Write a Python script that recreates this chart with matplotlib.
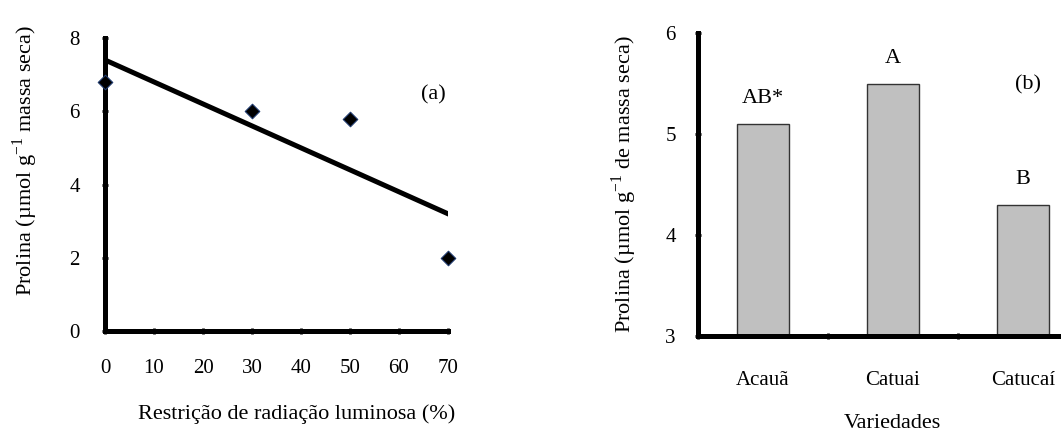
import matplotlib
matplotlib.use("Agg")
import matplotlib.pyplot as plt

plt.rcParams['font.family'] = ['Liberation Serif', 'DejaVu Serif']
plt.rcParams['mathtext.fontset'] = 'custom'
plt.rcParams['mathtext.rm'] = 'Liberation Serif'

# (a) proline vs light restriction
restricao = [0, 30, 50, 70]
prolina_a = [6.8, 6.0, 5.8, 2.0]
reta_x = [0, 70]
reta_y = [7.4, 3.2]

# (b) proline per variety
variedades = ['Acauã', 'Catuai', 'Catucaí']
prolina_b = [5.1, 5.5, 4.3]
letras = ['AB*', 'A', 'B']

W, H = 1061, 432
fig = plt.figure(figsize=(W / 100, H / 100), dpi=100)

def style(ax):
    for s in ['top', 'right']:
        ax.spines[s].set_visible(False)
    for s in ['left', 'bottom']:
        ax.spines[s].set_linewidth(3.6)
    ax.tick_params(direction='inout', length=4, width=2, labelsize=15)

# ---- panel (a)
ax1 = fig.add_axes([105 / W, 1 - 331 / H, 343 / W, 293 / H])
ax1.plot(reta_x, reta_y, color='black', lw=3.6, zorder=2)
ax1.scatter(restricao, prolina_a, marker='D', s=55, color='black',
            edgecolor='#1f3a6e', linewidth=0.8, zorder=3, clip_on=False)
ax1.set_xlim(0, 70)
ax1.set_ylim(0, 8)
ax1.set_xticks(range(0, 80, 10))
ax1.set_yticks([0, 2, 4, 6, 8])
style(ax1)
ax1.tick_params(axis='x', pad=18)
ax1.tick_params(axis='y', pad=16)
ax1.text(433, H - 95, '(a)', transform=None, fontsize=16,
         ha='center', va='center')
fig.text(297 / W, 1 - 414 / H, 'Restrição de radiação luminosa (%)',
         ha='center', va='center', fontsize=16)
fig.text(25 / W, 1 - 160 / H, 'Prolina (µmol g$^{-1}$ massa seca)',
         ha='center', va='center', rotation=90, fontsize=16)

# ---- panel (b)
ax2 = fig.add_axes([698 / W, 1 - 336 / H, 390 / W, 303 / H])
pos = range(len(variedades))
ax2.bar(pos, [v - 3 for v in prolina_b], bottom=3, width=0.4,
        color='#c0c0c0', edgecolor='#333333', linewidth=1)
for p, v, l in zip(pos, prolina_b, letras):
    ax2.text(p, v + 0.25, l, ha='center', va='center', fontsize=16)
ax2.set_xlim(-0.5, 2.5)
ax2.set_ylim(3, 6)
ax2.set_yticks([3, 4, 5, 6])
ax2.set_xticks([-0.5, 0.5, 1.5, 2.5])
ax2.set_xticklabels([])
ax2.set_xticks(list(pos), minor=True)
ax2.set_xticklabels(variedades, minor=True)
style(ax2)
ax2.tick_params(axis='x', which='minor', length=0, pad=25, labelsize=15)
ax2.tick_params(axis='y', pad=14)
ax2.text(1028, H - 85, '(b)', transform=None, fontsize=16,
         ha='center', va='center')
fig.text(892 / W, 1 - 423 / H, 'Variedades', ha='center', va='center',
         fontsize=16)
fig.text(624 / W, 1 - 184 / H, 'Prolina (µmol g$^{-1}$ de massa seca)',
         ha='center', va='center', rotation=90, fontsize=16)

fig.savefig('out.png', dpi=100)
